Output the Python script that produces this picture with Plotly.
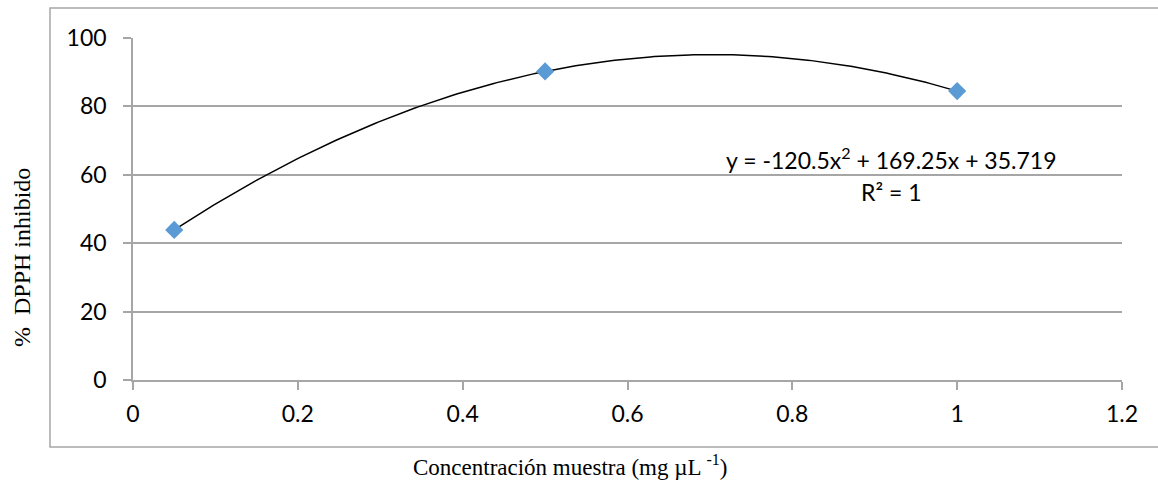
import numpy as np
import plotly.graph_objects as go

# Sample concentration (mg/µL) and DPPH inhibition (%)
concentracion = [0.05, 0.5, 1.0]
inhibicion = [43.88, 90.22, 84.47]

x_ticks = [0, 0.2, 0.4, 0.6, 0.8, 1, 1.2]
x_tick_labels = ["0", "0.2", "0.4", "0.6", "0.8", "1", "1.2"]
y_ticks = [0, 20, 40, 60, 80, 100]

# Second-order polynomial trendline fitted to the points
coef = np.polyfit(concentracion, inhibicion, 2)
x_fit = np.linspace(min(concentracion), max(concentracion), 200)
y_fit = np.polyval(coef, x_fit)

W, H = 1158, 483
L, R, T, B = 133, 36, 38, 103
pw, ph = W - L - R, H - T - B


def px_x(p):
    return (p - L) / pw


def px_y(p):
    return (H - B - p) / ph


grid = "#a6a6a6"
sans = "Lato, 'Open Sans', sans-serif"
serif = "'Liberation Serif', 'Times New Roman', serif"
tick_font = dict(family=sans, size=23, color="#000000")

fig = go.Figure()
fig.add_trace(go.Scatter(x=x_fit, y=y_fit, mode="lines",
                         line=dict(color="#000000", width=1.5),
                         hoverinfo="skip", showlegend=False))
fig.add_trace(go.Scatter(x=concentracion, y=inhibicion, mode="markers",
                         marker=dict(symbol="diamond", size=14, color="#5B9BD5",
                                     line=dict(width=0)),
                         showlegend=False))

fig.update_layout(
    width=W, height=H,
    margin=dict(l=L, r=R, t=T, b=B),
    paper_bgcolor="white", plot_bgcolor="white",
    xaxis=dict(range=[0, 1.2], tickvals=x_ticks, ticktext=x_tick_labels,
               showgrid=False, zeroline=False, showline=True, linecolor=grid,
               linewidth=1.5, ticks="outside", ticklen=8, tickcolor=grid,
               tickwidth=1.5, tickfont=tick_font, ticklabelstandoff=5),
    yaxis=dict(range=[0, 100], tickvals=y_ticks,
               showgrid=True, gridcolor=grid, gridwidth=1.5, zeroline=False,
               showline=True, linecolor=grid, linewidth=1.5, ticks="outside",
               ticklen=8, tickcolor=grid, tickwidth=1.5, tickfont=tick_font,
               ticklabelstandoff=12),
    shapes=[dict(type="rect", xref="paper", yref="paper",
                 x0=px_x(50), x1=px_x(1162), y0=px_y(447), y1=px_y(8),
                 line=dict(color=grid, width=1.5), fillcolor="rgba(0,0,0,0)",
                 layer="below")],
    annotations=[
        dict(text="y = -120.5x<sup>2</sup> + 169.25x + 35.719", xref="paper", yref="paper",
             x=px_x(891), y=px_y(158), xanchor="center", yanchor="middle",
             showarrow=False, font=dict(family=sans, size=23, color="#000000")),
        dict(text="R² = 1", xref="paper", yref="paper",
             x=px_x(891), y=px_y(192), xanchor="center", yanchor="middle",
             showarrow=False, font=dict(family=sans, size=23, color="#000000")),
        dict(text="Concentración muestra (mg µL <sup>-1</sup>)", xref="paper", yref="paper",
             x=px_x(570), y=px_y(465), xanchor="center", yanchor="middle",
             showarrow=False, font=dict(family=serif, size=23, color="#000000")),
        dict(text="%  DPPH inhibido", xref="paper", yref="paper",
             x=px_x(22), y=px_y(258), xanchor="center", yanchor="middle",
             showarrow=False, textangle=-90,
             font=dict(family=serif, size=24, color="#000000")),
    ],
)

fig.write_html("out.html")
